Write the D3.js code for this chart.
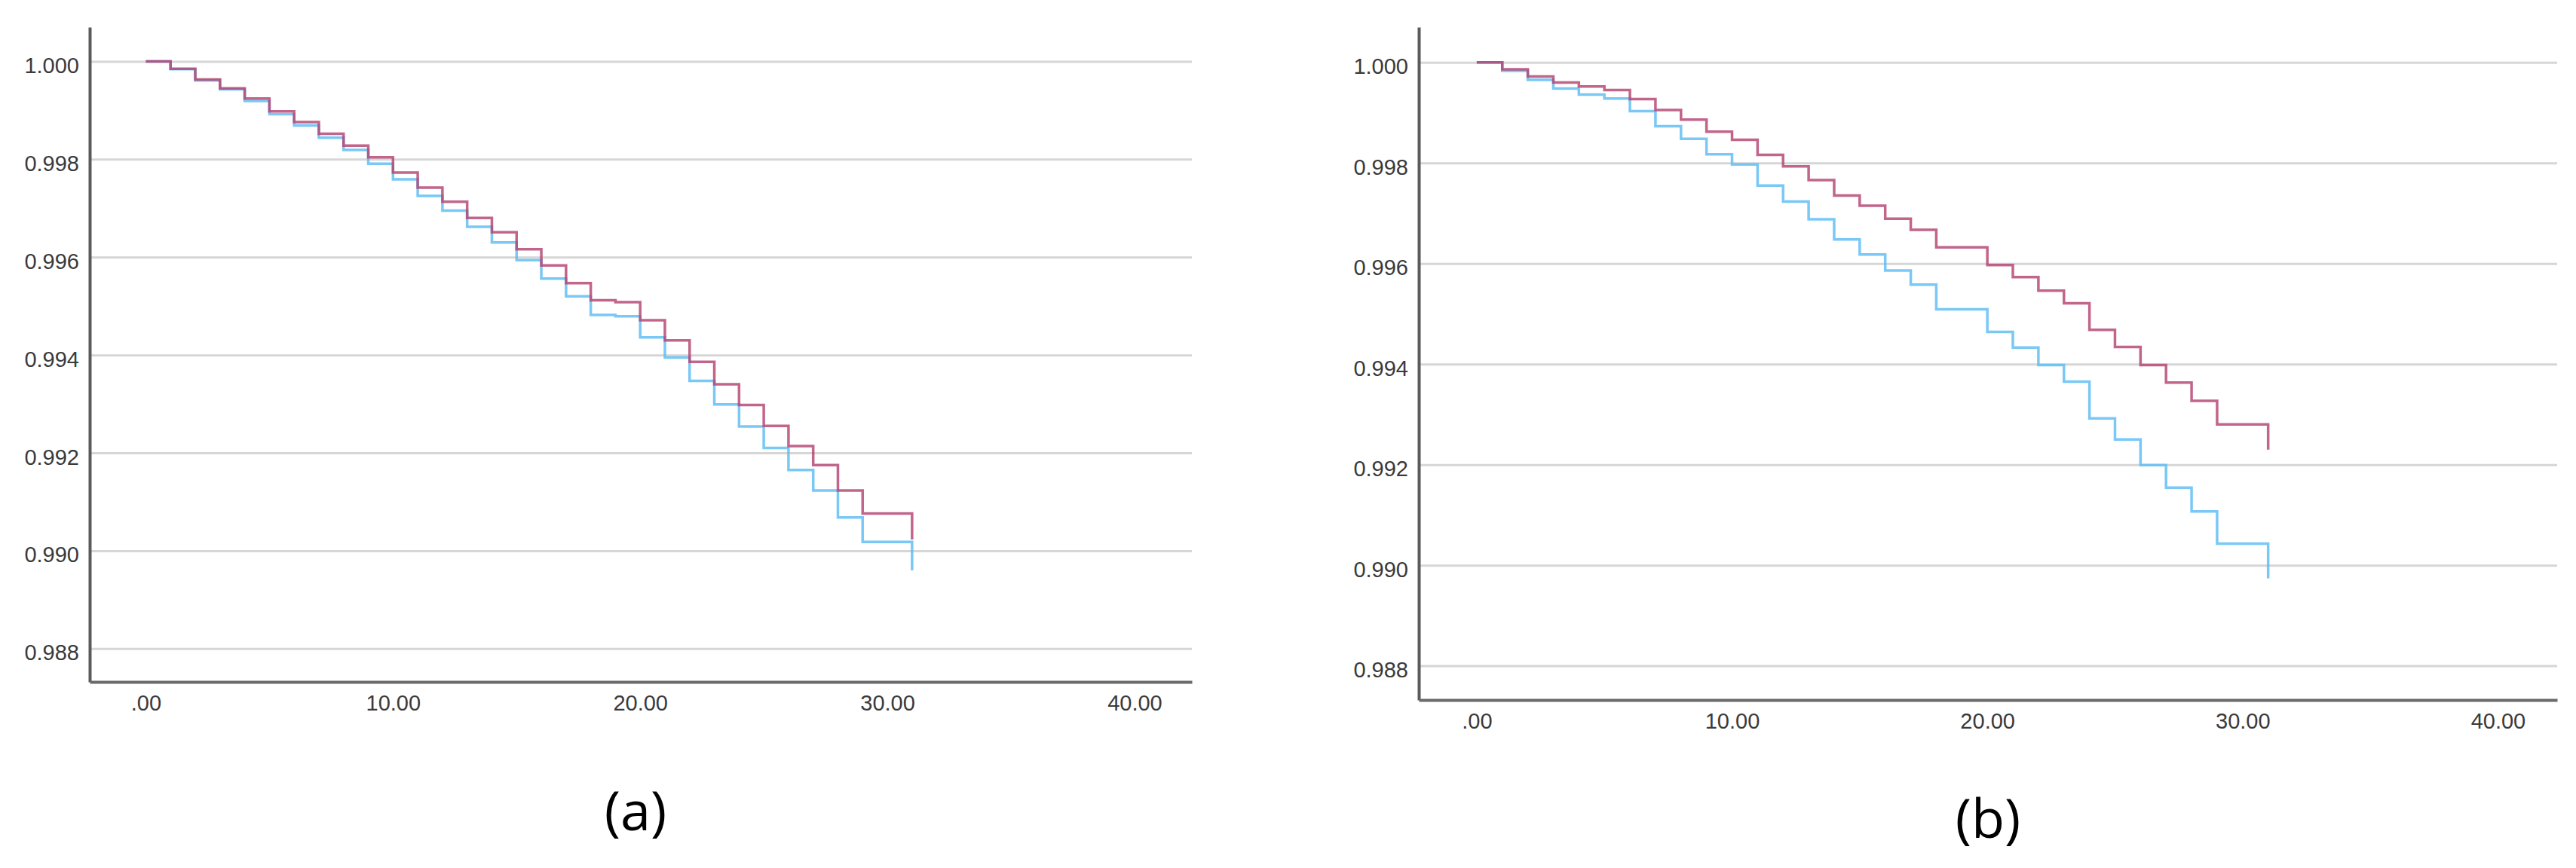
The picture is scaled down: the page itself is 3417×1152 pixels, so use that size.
<!DOCTYPE html>
<html>
<head>
<meta charset="utf-8">
<script src="https://cdn.jsdelivr.net/npm/d3@7"></script>
<style>
  html, body { margin: 0; padding: 0; background: #fff; }
  svg { display: block; }
</style>
</head>
<body>
<svg id="chart" width="3417" height="1152"></svg>
<script>
// ---------------- DATA ----------------
const times = [0,1,2,3,4,5,6,7,8,9,10,11,12,13,14,15,16,17,18,19,20,21,22,23,24,25,26,27,28,29];
const endTime = 31;

// Panel (a)
const aRed = [1.00000,0.99985,0.99963,0.99945,0.99924,0.99898,0.99876,0.99852,0.99828,0.99804,
              0.99773,0.99742,0.99713,0.99680,0.99651,0.99616,0.99583,0.99547,0.99512,0.99508,
              0.99471,0.99430,0.99386,0.99340,0.99298,0.99255,0.99214,0.99175,0.99123,0.99076];
const aRedEnd = 0.99023;
const aBlue = [1.00000,0.99984,0.99961,0.99943,0.99919,0.99892,0.99869,0.99844,0.99819,0.99791,
               0.99759,0.99725,0.99695,0.99662,0.99630,0.99594,0.99556,0.99520,0.99482,0.99479,
               0.99436,0.99395,0.99347,0.99299,0.99254,0.99210,0.99165,0.99123,0.99068,0.99018];
const aBlueEnd = 0.98960;

// Panel (b)
const bRed = [1.00000,0.99986,0.99972,0.99960,0.99952,0.99945,0.99927,0.99905,0.99886,0.99862,
              0.99846,0.99816,0.99793,0.99766,0.99735,0.99715,0.99689,0.99667,0.99632,0.99632,
              0.99597,0.99573,0.99546,0.99521,0.99468,0.99434,0.99398,0.99363,0.99327,0.99280];
const bRedEnd = 0.99230;
const bBlue = [1.00000,0.99983,0.99965,0.99948,0.99936,0.99928,0.99903,0.99873,0.99848,0.99817,
               0.99797,0.99755,0.99723,0.99688,0.99648,0.99618,0.99586,0.99558,0.99509,0.99509,
               0.99464,0.99433,0.99398,0.99365,0.99292,0.99250,0.99199,0.99154,0.99107,0.99043];
const bBlueEnd = 0.98974;

const yTicks = [0.988, 0.990, 0.992, 0.994, 0.996, 0.998, 1.000];
const xTicks = [0, 10, 20, 30, 40];
const xDomain = [-2.27, 42.32];
const yDomain = [0.98732, 1.0007];
const panelLabels = ["(a)", "(b)"];

// ---------------- STYLE / LAYOUT ----------------
const colors = { red: "#b34370", blue: "#5bbcf4" };
const panels = [
  { label: panelLabels[0], x0: 119, x1: 1581, yBottom: 905, yTop: 36, lx: 843, ly: 1102,
    series: [{ v: aBlue, end: aBlueEnd, c: colors.blue }, { v: aRed, end: aRedEnd, c: colors.red }] },
  { label: panelLabels[1], x0: 1882, x1: 3392, yBottom: 929, yTop: 36, lx: 2637, ly: 1112,
    series: [{ v: bBlue, end: bBlueEnd, c: colors.blue }, { v: bRed, end: bRedEnd, c: colors.red }] }
];

const svg = d3.select("#chart");
const tickFont = "'Liberation Sans', Arial, sans-serif";

panels.forEach(p => {
  const x = d3.scaleLinear().domain(xDomain).range([p.x0, p.x1]);
  const y = d3.scaleLinear().domain(yDomain).range([p.yBottom, p.yTop]);
  const g = svg.append("g");

  // gridlines
  const grid = g.append("g")
    .attr("transform", `translate(${p.x0},0)`)
    .call(d3.axisLeft(y).tickValues(yTicks).tickSize(-(p.x1 - p.x0)).tickFormat(""));
  grid.select(".domain").remove();
  grid.selectAll(".tick line").attr("stroke", "#d6d6d6").attr("stroke-width", 3);

  // curves
  const line = d3.line().x(d => x(d[0])).y(d => y(d[1])).curve(d3.curveStepAfter);
  p.series.forEach(s => {
    const pts = times.map((t, i) => [t, s.v[i]]);
    pts.push([endTime, s.v[s.v.length - 1]]);
    pts.push([endTime, s.end]);
    g.append("path")
      .attr("d", line(pts))
      .attr("fill", "none")
      .attr("stroke", s.c)
      .attr("stroke-width", 3.5)
      .attr("stroke-opacity", 0.82)
      .attr("stroke-linejoin", "miter");
  });

  // y axis
  const yAx = g.append("g")
    .attr("transform", `translate(${p.x0},0)`)
    .call(d3.axisLeft(y).tickValues(yTicks).tickSize(0).tickSizeOuter(0).tickPadding(14)
      .tickFormat(d3.format(".3f")));
  yAx.select(".domain").attr("stroke", "#5a5a5a").attr("stroke-width", 4);
  yAx.selectAll("text")
    .attr("dy", 0).attr("y", 15)
    .attr("font-family", tickFont).attr("font-size", 29).attr("fill", "#3a3a3a");

  // x axis
  const xAx = g.append("g")
    .attr("transform", `translate(0,${p.yBottom})`)
    .call(d3.axisBottom(x).tickValues(xTicks).tickSize(0).tickSizeOuter(0).tickPadding(17)
      .tickFormat(d => d === 0 ? ".00" : d3.format(".2f")(d)));
  xAx.select(".domain").attr("stroke", "#6a6a6a").attr("stroke-width", 4);
  xAx.selectAll("text")
    .attr("font-family", tickFont).attr("font-size", 29).attr("fill", "#3a3a3a");

  // panel label
  svg.append("text")
    .attr("x", p.lx).attr("y", p.ly)
    .attr("text-anchor", "middle")
    .attr("font-family", "'Open Sans', 'Noto Sans', sans-serif")
    .attr("font-size", 72)
    .attr("fill", "#000")
    .text(p.label);
});
</script>
</body>
</html>
